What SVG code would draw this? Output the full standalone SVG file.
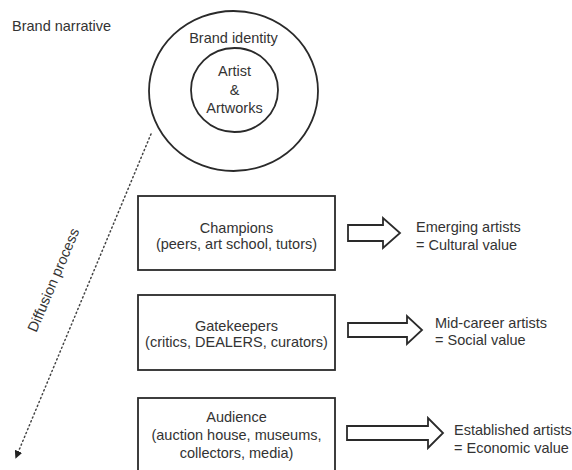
<svg xmlns="http://www.w3.org/2000/svg" width="572" height="470" viewBox="0 0 572 470">
<style>
text{font-family:"Liberation Sans",Arial,sans-serif;font-size:14.5px;fill:#333}
.c{text-anchor:middle}
.sh{fill:none;stroke:#2a2a2a;stroke-width:1.8}
.ar{fill:#fff;stroke:#2a2a2a;stroke-width:1.8;stroke-linejoin:miter}
.dot{fill:none;stroke:#444;stroke-width:1.5;stroke-dasharray:1.2 3;stroke-linecap:round}
</style>
<defs>
<marker id="ah" viewBox="0 0 10 10" refX="5" refY="5" markerWidth="8" markerHeight="8" orient="auto" markerUnits="userSpaceOnUse">
<path d="M0,0 L10,5 L0,10 z" fill="#222"/>
</marker>
</defs>
<rect width="572" height="470" fill="#fff"/>
<text x="12" y="31">Brand narrative</text>
<g id="brand-identity">
<ellipse class="sh" cx="233.5" cy="91" rx="84.5" ry="80"/>
<text class="c" x="233.5" y="43">Brand identity</text>
</g>
<g id="artist">
<ellipse class="sh" cx="234.5" cy="90" rx="43.5" ry="42"/>
<text class="c" x="234.5" y="76">Artist</text>
<text class="c" x="234.5" y="95">&amp;</text>
<text class="c" x="234.5" y="113">Artworks</text>
</g>
<g id="champions">
<rect class="sh" x="138" y="196" width="197" height="74"/>
<text class="c" x="236.5" y="233">Champions</text>
<text class="c" x="236.5" y="249">(peers, art school, tutors)</text>
</g>
<g id="gatekeepers">
<rect class="sh" x="138" y="295" width="197" height="75"/>
<text class="c" x="236.5" y="331">Gatekeepers</text>
<text class="c" x="236.5" y="347">(critics, DEALERS, curators)</text>
</g>
<g id="audience">
<rect class="sh" x="138" y="398" width="197" height="80"/>
<text class="c" x="236.5" y="422">Audience</text>
<text class="c" x="236.5" y="440">(auction house, museums,</text>
<text class="c" x="236.5" y="458">collectors, media)</text>
</g>
<g id="emerging">
<text x="416" y="232">Emerging artists</text>
<text x="416" y="250">= Cultural value</text>
</g>
<g id="midcareer">
<text x="435" y="328">Mid-career artists</text>
<text x="435" y="345">= Social value</text>
</g>
<g id="established">
<text x="454" y="435">Established artists</text>
<text x="454" y="453">= Economic value</text>
</g>
<g id="connectors">
<path class="ar" d="M348,225 H383 V218 L400,233 L383,248 V241 H348 Z"/>
<path class="ar" d="M348,323 H407 V316 L422,330 L407,344 V337 H348 Z"/>
<path class="ar" d="M347,426 H428 V418 L443,433 L428,448 V440 H347 Z"/>
<line class="dot" x1="151" y1="134" x2="17" y2="455" marker-end="url(#ah)"/>
<text class="c" transform="translate(58,282) rotate(-67)">Diffusion process</text>
</g>
</svg>
